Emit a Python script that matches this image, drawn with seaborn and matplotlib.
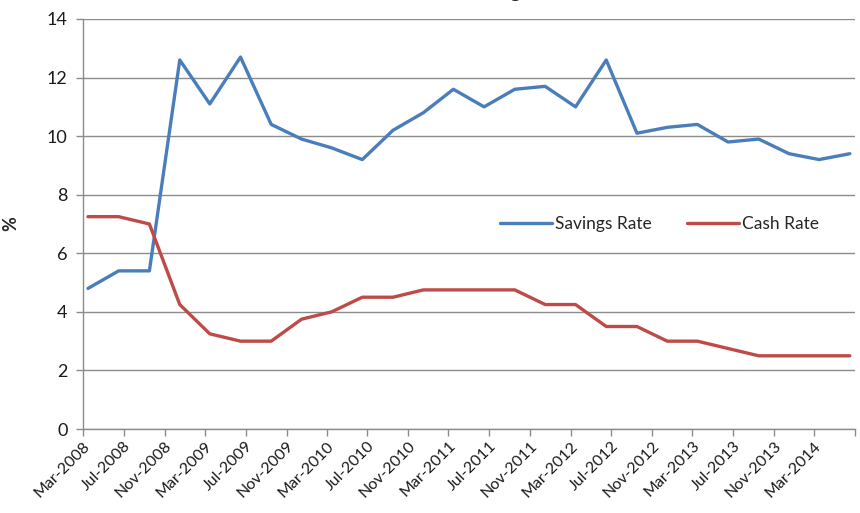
import pandas as pd
import seaborn as sns
import matplotlib.pyplot as plt
import matplotlib.dates as mdates
from matplotlib.ticker import FuncFormatter

# quarterly observations, Mar-2008 .. Jun-2014
quarters = pd.date_range('2008-03-01', '2014-06-01', freq='3MS') + pd.Timedelta(days=15)
savings_rate = [4.8, 5.4, 5.4, 12.6, 11.1, 12.7, 10.4, 9.9, 9.6, 9.2, 10.2, 10.8, 11.6,
                11.0, 11.6, 11.7, 11.0, 12.6, 10.1, 10.3, 10.4, 9.8, 9.9, 9.4, 9.2, 9.4]
cash_rate = [7.25, 7.25, 7.0, 4.25, 3.25, 3.0, 3.0, 3.75, 4.0, 4.5, 4.5, 4.75, 4.75,
             4.75, 4.75, 4.25, 4.25, 3.5, 3.5, 3.0, 3.0, 2.75, 2.5, 2.5, 2.5, 2.5]

axis_start = pd.Timestamp('2008-03-01')
axis_end = pd.Timestamp('2014-07-01')

df = pd.DataFrame({'Date': quarters, 'Savings Rate': savings_rate, 'Cash Rate': cash_rate})
dfLong = df.melt(id_vars='Date', var_name='Series', value_name='Rate')

sns.set_style('white')
plt.rcParams['font.family'] = ['Lato', 'DejaVu Sans']

fig = plt.figure(figsize=(8.6, 5.13), dpi=100)
ax = fig.add_axes([0.0965, 0.1637, 0.8975, 0.7993])

sns.lineplot(data=dfLong, x='Date', y='Rate', hue='Series',
             palette={'Savings Rate': '#4A7EBB', 'Cash Rate': '#BE4B48'},
             linewidth=2.4, ax=ax)

# axes styling (Excel look)
ax.set_ylim(0, 14)
ax.set_yticks(range(0, 15, 2))
ax.set_xlim(axis_start, axis_end)
ax.xaxis.set_major_locator(mdates.MonthLocator(bymonth=[3, 7, 11]))

def month_label(x, pos):
    # last tick closes the axis and carries no label
    d = mdates.num2date(x)
    if d.replace(tzinfo=None) >= axis_end:
        return ''
    return d.strftime('%b-%Y')

ax.xaxis.set_major_formatter(FuncFormatter(month_label))
ax.grid(axis='y', color='#8c8c8c', linewidth=1)
ax.set_axisbelow(True)
for side in ['top', 'right']:
    ax.spines[side].set_visible(False)
for side in ['left', 'bottom']:
    ax.spines[side].set_color('#8c8c8c')
    ax.spines[side].set_linewidth(1)
ax.tick_params(axis='both', which='major', direction='out', length=5, width=1,
               color='#8c8c8c', left=True, bottom=True)
ax.tick_params(axis='y', labelsize=13, labelcolor='#1a1a1a', pad=6)
ax.tick_params(axis='x', labelsize=11.5, labelcolor='#1a1a1a', pad=2)
plt.setp(ax.get_xticklabels(), rotation=45, ha='right', rotation_mode='anchor')

ax.set_xlabel('')
ax.set_ylabel('%', fontsize=13, fontweight='bold', labelpad=20)

leg = ax.legend(loc='center', bbox_to_anchor=(0.747, 0.50), ncol=2, frameon=False,
                fontsize=12.5, handlelength=3, columnspacing=2.0, handletextpad=0.2)
leg.set_title(None)

# chart title sits mostly above the visible area
fig.text(0.545, 1.003, 'Household Savings Rate', ha='center', va='baseline',
         fontsize=14, fontweight='bold')

plt.savefig('out.png', dpi=100)
